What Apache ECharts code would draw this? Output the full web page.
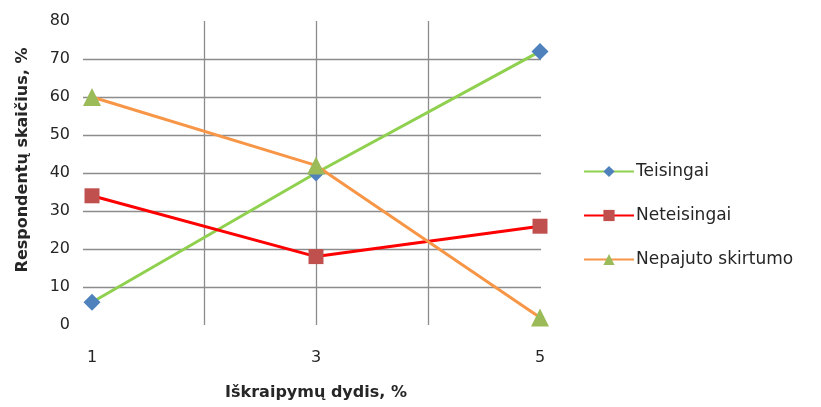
<!DOCTYPE html>
<html>
<head>
<meta charset="utf-8">
<script src="https://cdn.jsdelivr.net/npm/echarts@6/dist/echarts.min.js"></script>
<style>
  html, body { margin: 0; padding: 0; background: #fff; }
  #chart { width: 821px; height: 407px; }
</style>
</head>
<body>
<div id="chart"></div>
<script>
// Distortion size (%) on the x axis
const distortion = [1, 3, 5];
const xTickLabels = ['1', '3', '5'];
// Share of respondents (%) per answer
const teisingai = [6, 40, 72];
const neteisingai = [34, 18, 26];
const nepajuto = [60, 42, 2];
const seriesNames = ['Teisingai', 'Neteisingai', 'Nepajuto skirtumo'];

const font = '"DejaVu Sans", sans-serif';
const textColor = '#262626';
const gridColor = '#8c8c8c';

function pairs(vals) {
  return distortion.map((x, i) => [x, vals[i]]);
}

const chart = echarts.init(document.getElementById('chart'));
chart.setOption({
  animation: false,
  backgroundColor: '#ffffff',
  grid: [
    // background grid carrying the horizontal gridlines
    { left: 83, right: 280, top: 21, bottom: 82, containLabel: false },
    // plotting grid
    { left: 92, right: 281, top: 21, bottom: 82, containLabel: false }
  ],
  xAxis: [
    { gridIndex: 0, type: 'value', min: 0, max: 1, show: false },
    {
      gridIndex: 1, type: 'value', min: 1, max: 5, interval: 1,
      axisLine: { show: false },
      axisTick: { show: false },
      splitLine: { show: true, showMinLine: false, showMaxLine: false,
                   lineStyle: { color: gridColor, width: 1.3 } },
      axisLabel: {
        margin: 25, fontSize: 16, color: textColor, fontFamily: font,
        formatter: v => (xTickLabels.indexOf(String(v)) >= 0 ? String(v) : '')
      },
      name: 'Iškraipymų dydis, %',
      nameLocation: 'middle',
      nameGap: 60,
      nameTextStyle: { fontSize: 16, fontWeight: 'bold', color: textColor, fontFamily: font }
    }
  ],
  yAxis: [
    {
      gridIndex: 0, type: 'value', min: 0, max: 80, interval: 10,
      axisLine: { show: false },
      axisTick: { show: false },
      splitLine: { show: true, showMinLine: false, showMaxLine: false,
                   lineStyle: { color: gridColor, width: 1.3 } },
      axisLabel: { margin: 13, fontSize: 16, color: textColor, fontFamily: font },
      name: 'Respondentų skaičius, %',
      nameLocation: 'middle',
      nameGap: 52,
      nameTextStyle: { fontSize: 16, fontWeight: 'bold', color: textColor, fontFamily: font,
                       padding: [0, 0, 0, 26] }
    },
    {
      gridIndex: 1, type: 'value', min: 0, max: 80, interval: 10,
      show: false, splitLine: { show: false }
    }
  ],
  legend: {
    orient: 'vertical',
    left: 583,
    top: 163,
    padding: 0,
    itemWidth: 50,
    itemHeight: 14,
    itemGap: 27,
    textStyle: { fontSize: 17, color: textColor, fontFamily: font, padding: [0, 0, 0, -3] },
    data: seriesNames
  },
  series: [
    {
      name: seriesNames[0], type: 'line', xAxisIndex: 1, yAxisIndex: 1,
      data: pairs(teisingai),
      symbol: 'diamond', symbolSize: 17,
      lineStyle: { color: '#8fd14f', width: 3 },
      itemStyle: { color: '#4f81bd' },
      z: 2
    },
    {
      name: seriesNames[1], type: 'line', xAxisIndex: 1, yAxisIndex: 1,
      data: pairs(neteisingai),
      symbol: 'rect', symbolSize: 15,
      lineStyle: { color: '#ff0000', width: 3 },
      itemStyle: { color: '#c0504d' },
      z: 3
    },
    {
      name: seriesNames[2], type: 'line', xAxisIndex: 1, yAxisIndex: 1,
      data: pairs(nepajuto),
      symbol: 'triangle', symbolSize: 18,
      lineStyle: { color: '#f79646', width: 3 },
      itemStyle: { color: '#9bbb59' },
      z: 4
    }
  ]
});
</script>
</body>
</html>
